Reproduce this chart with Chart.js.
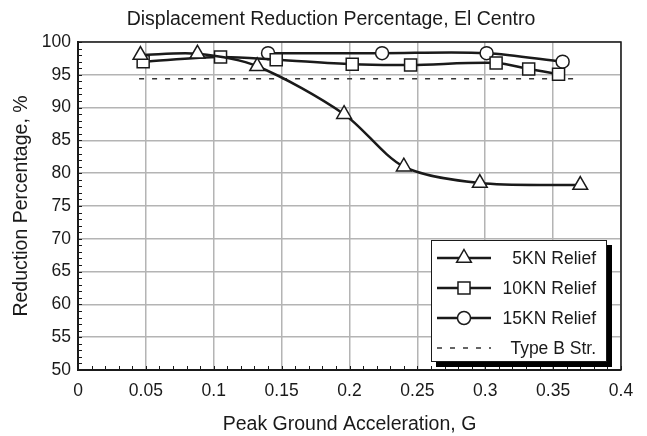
<!DOCTYPE html>
<html>
<head>
<meta charset="utf-8">
<script src="https://cdn.jsdelivr.net/npm/chart.js@4.4.1/dist/chart.umd.min.js"></script>
<style>
    body { margin: 0; background: #fff; }
    #wrap { width: 647px; height: 436px; }
</style>
</head>
<body>
<div id="wrap"><canvas id="chart" width="647" height="436"></canvas></div>
<script>
// values
var pga5 = [0.046, 0.088, 0.132, 0.196, 0.240, 0.296, 0.370];
var red5 = [98.0, 98.2, 96.3, 89.0, 81.0, 78.5, 78.2];

var pga10 = [0.048, 0.105, 0.146, 0.202, 0.245, 0.308, 0.332, 0.354];
var red10 = [97.0, 97.7, 97.3, 96.6, 96.5, 96.8, 95.9, 95.1];

var pga15 = [0.140, 0.224, 0.301, 0.357];
var red15 = [98.3, 98.3, 98.3, 97.0];

var pgaB = [0.045, 0.370];
var redB = [94.4, 94.4];

var xTicks = [0, 0.05, 0.1, 0.15, 0.2, 0.25, 0.3, 0.35, 0.4];
var yTicks = [50, 55, 60, 65, 70, 75, 80, 85, 90, 95, 100];

var chartTitle = 'Displacement Reduction Percentage, El Centro';

const FONT = "'Liberation Sans', Arial, sans-serif";
const INK = '#1a1a1a';

function pts(xs, ys) {
    return xs.map((x, i) => ({ x: x, y: ys[i] }));
}

function drawMarker(ctx, style, x, y, r) {
    ctx.beginPath();
    if (style == 'triangle') {
        ctx.moveTo(x, y - r);
        ctx.lineTo(x + r * 0.866, y + r * 0.5);
        ctx.lineTo(x - r * 0.866, y + r * 0.5);
        ctx.closePath();
    } else if (style == 'rect') {
        var s = r * 0.7071;
        ctx.rect(x - s, y - s, 2 * s, 2 * s);
    } else {
        ctx.arc(x, y, r, 0, Math.PI * 2);
    }
    ctx.fillStyle = '#fff';
    ctx.fill();
    ctx.lineWidth = 1.5;
    ctx.strokeStyle = INK;
    ctx.stroke();
}

// title, frame, minor ticks and the boxed legend
const extras = {
    id: 'extras',
    beforeDatasetsDraw(chart) {
        const ctx = chart.ctx;
        const ca = chart.chartArea;
        const xs = chart.scales.x, ys = chart.scales.y;
        ctx.save();
        ctx.strokeStyle = INK;
        ctx.lineWidth = 1;
        // minor ticks
        for (var v = 50; v <= 100; v++) {
            var py = Math.round(ys.getPixelForValue(v)) + 0.5;
            ctx.beginPath();
            ctx.moveTo(ca.left, py);
            ctx.lineTo(ca.left + 4, py);
            ctx.stroke();
        }
        for (var k = 0; k <= 40; k++) {
            var px = Math.round(xs.getPixelForValue(k / 100)) + 0.5;
            ctx.beginPath();
            ctx.moveTo(px, ca.bottom);
            ctx.lineTo(px, ca.bottom - 4);
            ctx.stroke();
        }
        // top and right border
        ctx.lineWidth = 1.5;
        ctx.beginPath();
        ctx.moveTo(ca.left, ca.top);
        ctx.lineTo(ca.right, ca.top);
        ctx.lineTo(ca.right, ca.bottom);
        ctx.stroke();

        // title, a bit right of the canvas centre like the original
        ctx.fillStyle = INK;
        ctx.font = '19.5px ' + FONT;
        ctx.textAlign = 'center';
        ctx.textBaseline = 'middle';
        ctx.fillText(chartTitle, 331, 20);
        ctx.restore();
    },
    afterDraw(chart) {
        const ctx = chart.ctx;
        const ca = chart.chartArea;
        const right = ca.right - 14, bottom = ca.bottom - 8;
        const w = 176, h = 122;
        const left = right - w, top = bottom - h;
        ctx.save();
        // shadow
        ctx.fillStyle = '#000';
        ctx.fillRect(left + 5, top + 5, w, h);
        ctx.fillStyle = '#fff';
        ctx.fillRect(left, top, w, h);
        ctx.strokeStyle = INK;
        ctx.lineWidth = 1;
        ctx.strokeRect(left + 0.5, top + 0.5, w - 1, h - 1);

        ctx.font = '17.5px ' + FONT;
        ctx.textAlign = 'right';
        ctx.textBaseline = 'middle';
        chart.data.datasets.forEach((ds, i) => {
            var y = top + 18 + i * 30;
            ctx.beginPath();
            ctx.strokeStyle = ds.borderColor;
            ctx.lineWidth = ds.borderDash ? 1.3 : 2.5;
            ctx.setLineDash(ds.borderDash || []);
            ctx.moveTo(left + 6, y);
            ctx.lineTo(left + 60, y);
            ctx.stroke();
            ctx.setLineDash([]);
            if (ds.pointRadius > 0) {
                drawMarker(ctx, ds.pointStyle, left + 33, y, ds.pointRadius);
            }
            ctx.fillStyle = INK;
            ctx.fillText(ds.label, right - 11, y + 1);
        });
        ctx.restore();
    }
};

const baseLine = {
    showLine: true,
    borderColor: INK,
    borderWidth: 2.5,
    backgroundColor: '#fff',
    pointBackgroundColor: '#fff',
    pointBorderColor: INK,
    pointBorderWidth: 1.5,
    tension: 0.3
};

const config = {
    type: 'scatter',
    data: {
        datasets: [
            Object.assign({}, baseLine, {
                label: '5KN Relief',
                data: pts(pga5, red5),
                pointStyle: 'triangle',
                pointRadius: 8.5
            }),
            Object.assign({}, baseLine, {
                label: '10KN Relief',
                data: pts(pga10, red10),
                pointStyle: 'rect',
                pointRadius: 8.5
            }),
            Object.assign({}, baseLine, {
                label: '15KN Relief',
                data: pts(pga15, red15),
                pointStyle: 'circle',
                pointRadius: 6.5
            }),
            {
                label: 'Type B Str.',
                data: pts(pgaB, redB),
                showLine: true,
                borderColor: '#333',
                borderWidth: 1.3,
                borderDash: [5, 8],
                pointRadius: 0,
                tension: 0
            }
        ]
    },
    options: {
        responsive: false,
        animation: false,
        events: [],
        layout: { padding: { left: 0, right: 26, top: 42, bottom: 0 } },
        plugins: {
            legend: { display: false },
            tooltip: { enabled: false },
            title: { display: false }
        },
        scales: {
            x: {
                type: 'linear',
                min: 0,
                max: 0.4,
                afterFit: (s) => { s.height = 66; },
                afterBuildTicks: (s) => { s.ticks = xTicks.map(v => ({ value: v })); },
                ticks: {
                    color: INK,
                    font: { family: FONT, size: 17.5 },
                    padding: 10.5,
                    maxRotation: 0,
                    callback: (v) => String(+Number(v).toFixed(2))
                },
                grid: { color: '#b4b4b4', lineWidth: 1.5, drawTicks: false },
                border: { color: INK, width: 2 },
                title: {
                    display: true,
                    text: 'Peak Ground Acceleration, G',
                    color: INK,
                    font: { family: FONT, size: 19.5 },
                    padding: { top: 0, bottom: 0 }
                }
            },
            y: {
                min: 50,
                max: 100,
                afterFit: (s) => { s.width = 78; },
                afterBuildTicks: (s) => { s.ticks = yTicks.map(v => ({ value: v })); },
                ticks: {
                    color: INK,
                    font: { family: FONT, size: 17.5 },
                    padding: 7
                },
                grid: { color: '#b4b4b4', lineWidth: 1.5, drawTicks: false },
                border: { color: INK, width: 2 },
                title: {
                    display: true,
                    text: 'Reduction Percentage, %',
                    color: INK,
                    font: { family: FONT, size: 19.5 },
                    padding: { top: 10, bottom: 0 }
                }
            }
        }
    },
    plugins: [extras]
};

new Chart(document.getElementById('chart').getContext('2d'), config);
</script>
</body>
</html>
